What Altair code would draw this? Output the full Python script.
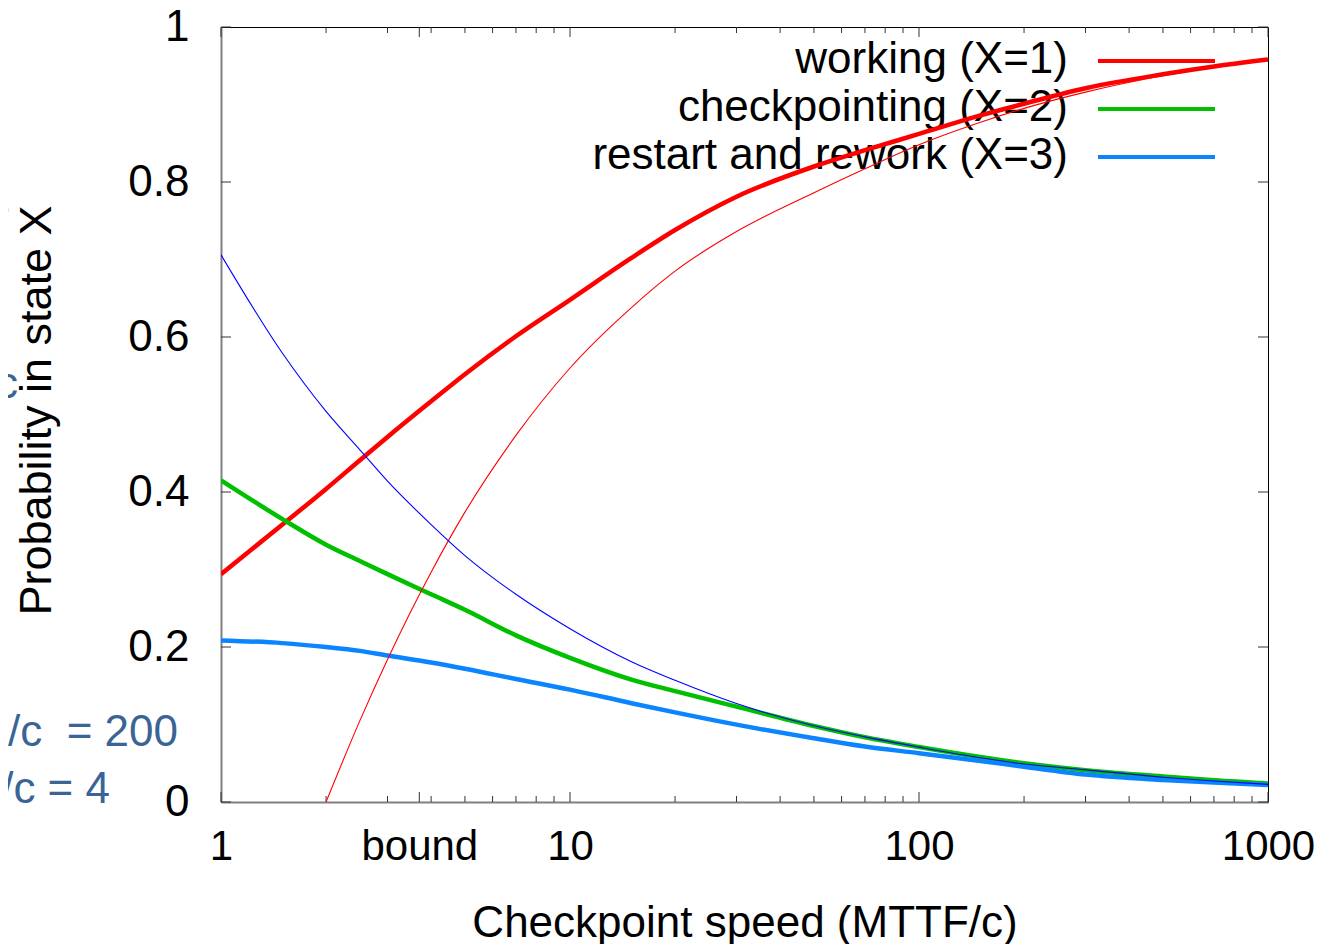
import altair as alt
import pandas as pd

# ---------------- data ----------------
X = [1, 1.5, 2, 2.5, 3, 4, 5, 7, 10, 15, 20, 30, 50, 70, 100, 150, 200, 300, 500, 700, 1000]
working = [0.294, 0.358, 0.404, 0.441, 0.471, 0.517, 0.552, 0.601, 0.648, 0.702, 0.738, 0.781,
           0.820, 0.841, 0.862, 0.886, 0.901, 0.921, 0.939, 0.949, 0.958]
checkpointing = [0.415, 0.365, 0.332, 0.311, 0.294, 0.268, 0.248, 0.215, 0.186, 0.158, 0.143, 0.123,
                 0.098, 0.0835, 0.071, 0.058, 0.050, 0.041, 0.033, 0.028, 0.024]
restart = [0.2085, 0.205, 0.200, 0.195, 0.189, 0.180, 0.172, 0.1587, 0.145, 0.1275, 0.1156, 0.0998,
           0.0822, 0.0715, 0.063, 0.053, 0.0455, 0.0355, 0.0285, 0.025, 0.022]
X_BOUND = [2, 2.5, 3, 4, 5, 7, 10, 15, 20, 30, 50, 70, 100, 150, 200, 300, 500, 700, 1000]
working_bound = [0.0, 0.105, 0.184, 0.2965, 0.374, 0.473, 0.560, 0.638, 0.685, 0.736, 0.786, 0.817,
                 0.848, 0.877, 0.895, 0.916, 0.937, 0.948, 0.957]
restart_bound = [0.706, 0.579, 0.504, 0.4545, 0.414, 0.358, 0.318, 0.268, 0.2236, 0.181, 0.157, 0.127,
                 0.0983, 0.084, 0.0708, 0.057, 0.049, 0.0415, 0.032, 0.027, 0.0228]

legend_labels = ["working (X=1)", "checkpointing (X=2)", "restart and rework (X=3)"]
x_major = [1, 3.7, 10, 100, 1000]
x_minor = [2, 3, 4, 5, 6, 7, 8, 9, 20, 30, 40, 50, 60, 70, 80, 90,
           200, 300, 400, 500, 600, 700, 800, 900]
y_major = [0, 0.2, 0.4, 0.6, 0.8, 1.0]
side_notes = ["e", "c", "/c\u00a0\u00a0= 200", "/c = 4"]

# ---------------- styling ----------------
W, H = 1047, 775
FONT = "Liberation Sans"
RED, GREEN, BLUE, THIN_BLUE = "#ff0000", "#00c000", "#0a84ff", "#0000ff"
NOTE_COLOR = "#3b6496"
TICK_COLOR = "#333333"

xs = alt.Scale(type="log", domain=[1, 1000], nice=False)
ys = alt.Scale(domain=[0, 1], nice=False, zero=False)

X_ENC = alt.X(
    "x:Q", scale=xs,
    axis=alt.Axis(
        values=x_major,
        labelExpr="datum.value > 3.6 && datum.value < 3.8 ? 'bound' : format(datum.value, 'd')",
        title="Checkpoint speed (MTTF/c)",
        grid=False, ticks=False, tickSize=0,
        domainColor="#808080", domainWidth=2,
        labelFont=FONT, labelFontSize=42, labelColor="black", labelPadding=24,
        labelFlush=False, labelOverlap=False,
        titleFont=FONT, titleFontSize=44, titleFontWeight="normal", titleColor="black",
        titleY=134, titleBaseline="alphabetic",
    ),
)
Y_ENC = alt.Y(
    "y:Q", scale=ys,
    axis=alt.Axis(
        values=y_major,
        labelExpr="format(datum.value, '~g')",
        title="Probability in state X",
        grid=False, ticks=False, tickSize=0,
        domainColor="#808080", domainWidth=2,
        labelFont=FONT, labelFontSize=44, labelColor="black", labelPadding=32,
        labelFlush=False, labelOverlap=False,
        titleFont=FONT, titleFontSize=45, titleFontWeight="normal", titleColor="black",
        titleAngle=270, titleX=-171, titleY=383, titleBaseline="alphabetic", titleAlign="center",
    ),
)

layers = []

# inward tick marks (gnuplot style, mirrored)
df_xmaj = pd.DataFrame({"x": x_major})
df_xmin = pd.DataFrame({"x": x_minor})
df_ymaj = pd.DataFrame({"y": y_major})
for df, L in ((df_xmaj, 10), (df_xmin, 6)):
    layers.append(alt.Chart(df).mark_rule(color=TICK_COLOR, strokeWidth=1).encode(
        x=X_ENC, y=alt.value(H), y2=alt.value(H - L)))
    layers.append(alt.Chart(df).mark_rule(color=TICK_COLOR, strokeWidth=1).encode(
        x=X_ENC, y=alt.value(0), y2=alt.value(L)))
layers.append(alt.Chart(df_ymaj).mark_rule(color=TICK_COLOR, strokeWidth=1).encode(
    y=Y_ENC, x=alt.value(0), x2=alt.value(10)))
layers.append(alt.Chart(df_ymaj).mark_rule(color=TICK_COLOR, strokeWidth=1).encode(
    y=Y_ENC, x=alt.value(W - 10), x2=alt.value(W)))

# manual key (text left of sample line)
key_colors = [RED, GREEN, BLUE]
for i, (lab, col) in enumerate(zip(legend_labels, key_colors)):
    ly = 33 + 48 * i
    dfl = pd.DataFrame({"label": [lab]})
    layers.append(alt.Chart(dfl).mark_text(
        align="right", baseline="middle", font=FONT, fontSize=44, color="black").encode(
        x=alt.value(847), y=alt.value(ly), text="label:N"))
    layers.append(alt.Chart(dfl).mark_rule(color=col, strokeWidth=4).encode(
        x=alt.value(877), x2=alt.value(994), y=alt.value(ly + 1)))

# curves
series = [
    (X, working, RED, 4.5),
    (X, checkpointing, GREEN, 4.5),
    (X, restart, BLUE, 4.5),
    (X_BOUND, working_bound, RED, 1.1),
    (X, restart_bound, THIN_BLUE, 1.1),
]
for xv, yv, col, sw in series:
    df = pd.DataFrame({"x": xv, "y": yv})
    layers.append(alt.Chart(df).mark_line(
        color=col, strokeWidth=sw, interpolate="monotone", clip=True).encode(x=X_ENC, y=Y_ENC))

# partially visible side notes (cut off at the left edge of the slide)
note_pos = [(-211, 183), (-203, 358), (-43, 706), (-111, 763)]
for note, (nx, ny) in zip(side_notes, note_pos):
    dfn = pd.DataFrame({"t": [note]})
    layers.append(alt.Chart(dfn).mark_text(
        align="right", baseline="middle", font=FONT, fontSize=44, color=NOTE_COLOR).encode(
        x=alt.value(nx), y=alt.value(ny), text="t:N"))

chart = alt.layer(*layers).properties(
    width=W, height=H,
    autosize=alt.AutoSizeParams(type="none"),
    padding={"left": 213, "top": 19, "right": 57, "bottom": 142},
).configure_view(stroke="black", strokeWidth=1)

chart.save("out.html", embed_options={"renderer": "svg", "actions": False})
